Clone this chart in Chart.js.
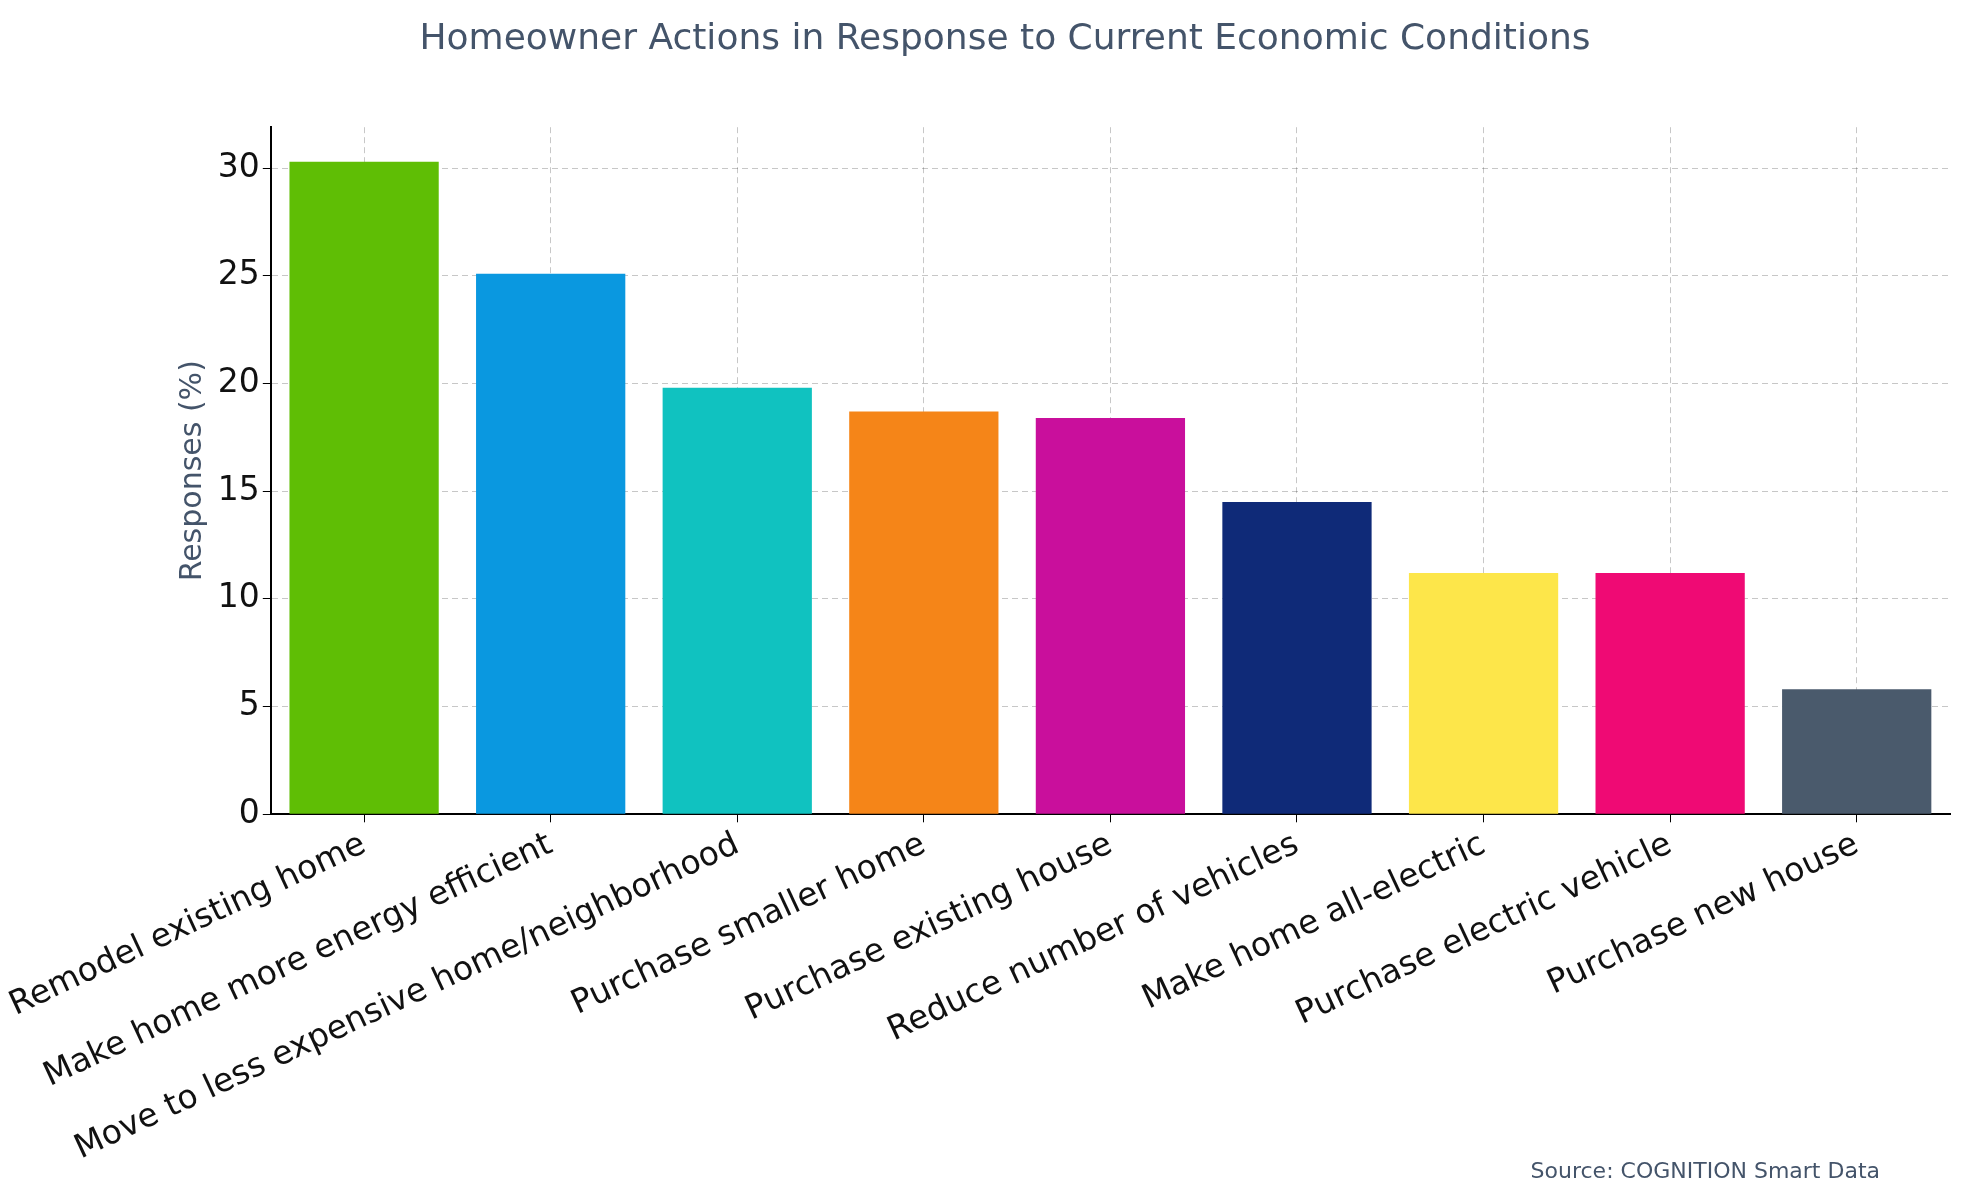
<!DOCTYPE html>
<html><head><meta charset="utf-8">
<script src="https://cdn.jsdelivr.net/npm/chart.js@4"></script>
<style>body{margin:0;background:#fff;font-family:"DejaVu Sans";}#src{position:absolute;right:86px;top:1158px;font:22px "DejaVu Sans";color:#44546a;}</style>
</head><body>
<canvas id="c" width="1966" height="1202"></canvas>
<div id="src">Source: COGNITION Smart Data</div>
<script>
const categories=["Remodel existing home","Make home more energy efficient","Move to less expensive home/neighborhood","Purchase smaller home","Purchase existing house","Reduce number of vehicles","Make home all-electric","Purchase electric vehicle","Purchase new house"];
const values=[30.3,25.1,19.8,18.7,18.4,14.5,11.2,11.2,5.8];
const colors=["#5fbe05","#0a98e0","#10c2c0","#f58518","#c90f9c","#0f2a78","#fde64a","#ef0a74","#4a5a6c"];
const grid={color:"rgba(0,0,0,0.22)",tickColor:"#000",tickLength:8,drawTicks:true};
new Chart(document.getElementById("c"),{type:"bar",
data:{labels:categories,datasets:[{data:values,backgroundColor:colors,barPercentage:0.8,categoryPercentage:1}]},
options:{responsive:false,animation:false,
layout:{padding:{left:60,right:16,top:4,bottom:30}},
plugins:{legend:{display:false},title:{display:true,text:"Homeowner Actions in Response to Current Economic Conditions",color:"#44546a",font:{family:"DejaVu Sans",size:36,weight:"normal"},padding:{top:14,bottom:66}}},
scales:{
x:{grid:{...grid,offset:false},border:{display:true,color:"#000",width:2,dash:[6,4]},ticks:{color:"#111",font:{family:"DejaVu Sans",size:33},maxRotation:25,minRotation:25,autoSkip:false}},
y:{min:0,max:31.9,grid:grid,border:{display:true,color:"#000",width:2,dash:[6,4]},ticks:{stepSize:5,color:"#111",font:{family:"DejaVu Sans",size:33},callback:v=>v%5===0?v:null},
title:{display:true,text:"Responses (%)",color:"#44546a",font:{family:"DejaVu Sans",size:30}}}}}});
</script></body></html>
